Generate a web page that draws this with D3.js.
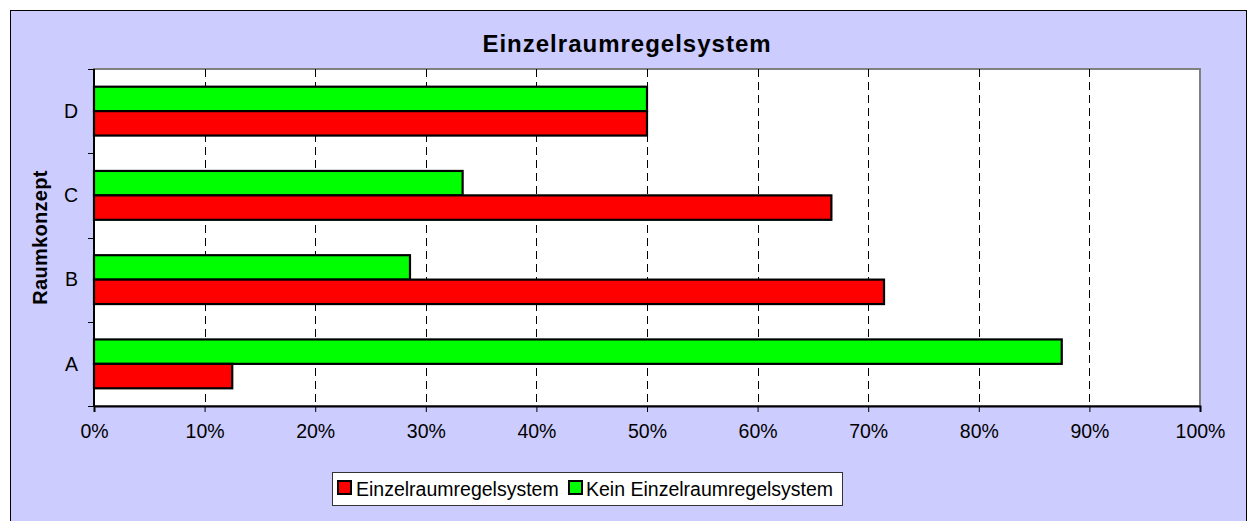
<!DOCTYPE html>
<html>
<head>
<meta charset="utf-8">
<script src="https://cdn.jsdelivr.net/npm/d3@7"></script>
<style>
  body { margin: 0; background: #fff; }
  svg text { font-family: "Liberation Sans", Arial, sans-serif; fill: #000; }
</style>
</head>
<body>
<script>
// data
const categories = ["D", "C", "B", "A"]
const seriesNames = ["Kein Einzelraumregelsystem", "Einzelraumregelsystem"]
const einzel = [0.5, 0.6667, 0.7143, 0.125]
const kein = [0.5, 0.3333, 0.2857, 0.875]
const xTicks = [0, 0.1, 0.2, 0.3, 0.4, 0.5, 0.6, 0.7, 0.8, 0.9, 1]
const colors = { "Einzelraumregelsystem": "#ff0000", "Kein Einzelraumregelsystem": "#00ff00" }

const width = 1252
const height = 521
const plot = { left: 94, right: 1200, top: 69, bottom: 406 }

const rows = categories.map((c, i) => ({
    cat: c,
    "Kein Einzelraumregelsystem": kein[i],
    "Einzelraumregelsystem": einzel[i]
}))

const svg = d3.select("body").append("svg")
    .attr("width", width)
    .attr("height", height)

// outer chart area
svg.append("rect")
    .attr("x", 10.5).attr("y", 10.5)
    .attr("width", 1236).attr("height", 520)
    .attr("fill", "#ccccff")
    .attr("stroke", "#000")

const x = d3.scaleLinear().domain([0, 1]).range([plot.left, plot.right])
const y = d3.scaleBand().domain(categories).range([plot.top, plot.bottom])
    .paddingInner(0.42).paddingOuter(0.21)
const yStep = y.step()
const ySub = d3.scaleBand().domain(seriesNames).range([0, y.bandwidth()])

// plot background
svg.append("rect")
    .attr("x", plot.left).attr("y", plot.top)
    .attr("width", plot.right - plot.left).attr("height", plot.bottom - plot.top)
    .attr("fill", "#fff")
    .attr("stroke", "#808080")
    .attr("stroke-width", 2)

// dashed gridlines
svg.append("g")
    .selectAll("line")
    .data(xTicks.slice(1, -1))
    .join("line")
    .attr("x1", d => Math.round(x(d)) + 0.5)
    .attr("x2", d => Math.round(x(d)) + 0.5)
    .attr("y1", plot.top)
    .attr("y2", plot.bottom)
    .attr("stroke", "#000")
    .attr("stroke-dasharray", "8,5")

// bars
const group = svg.append("g")
    .selectAll("g")
    .data(rows)
    .join("g")
    .attr("transform", d => `translate(0,${y(d.cat)})`)

group.selectAll("rect")
    .data(d => seriesNames.map(k => ({ key: k, value: d[k] })))
    .join("rect")
    .attr("x", x(0))
    .attr("y", d => ySub(d.key))
    .attr("width", d => x(d.value) - x(0))
    .attr("height", ySub.bandwidth())
    .attr("fill", d => colors[d.key])
    .attr("stroke", "#000")
    .attr("stroke-width", 2.2)

// x axis
const xAxis = d3.axisBottom(x)
    .tickValues(xTicks)
    .tickFormat(d3.format(".0%"))
    .tickSize(6)
    .tickPadding(12)

svg.append("g")
    .attr("transform", `translate(0,${plot.bottom})`)
    .call(xAxis)
    .call(g => g.select(".domain").attr("stroke", "#000").attr("stroke-width", 2))
    .call(g => g.selectAll(".tick line").attr("stroke", "#000"))
    .call(g => g.selectAll(".tick text")
        .style("font-size", "19.5px")
        .attr("fill", "#000"))

// y axis: ticks sit on band boundaries
const yBounds = d3.range(categories.length + 1).map(i => plot.top + i * yStep)
const ya = svg.append("g")
ya.append("line")
    .attr("x1", plot.left).attr("x2", plot.left)
    .attr("y1", plot.top).attr("y2", plot.bottom)
    .attr("stroke", "#000").attr("stroke-width", 2)
ya.selectAll("line.tk")
    .data(yBounds)
    .join("line")
    .attr("class", "tk")
    .attr("x1", plot.left - 6).attr("x2", plot.left)
    .attr("y1", d => Math.round(d) + 0.5).attr("y2", d => Math.round(d) + 0.5)
    .attr("stroke", "#000")
ya.selectAll("text")
    .data(categories)
    .join("text")
    .attr("x", 78)
    .attr("y", d => y(d) + y.bandwidth() / 2)
    .attr("dy", "0.35em")
    .attr("text-anchor", "end")
    .style("font-size", "19.5px")
    .text(d => d)

// title
svg.append("text")
    .attr("x", 627)
    .attr("y", 52)
    .attr("text-anchor", "middle")
    .style("font-size", "24px")
    .style("font-weight", "bold")
    .style("letter-spacing", "1px")
    .text("Einzelraumregelsystem")

// y axis title
svg.append("text")
    .attr("transform", `translate(47,${(plot.top + plot.bottom) / 2}) rotate(-90)`)
    .attr("text-anchor", "middle")
    .style("font-size", "20px")
    .style("font-weight", "bold")
    .style("letter-spacing", "0.3px")
    .text("Raumkonzept")

// legend
const legend = svg.append("g")
legend.append("rect")
    .attr("x", 332.5).attr("y", 472.5)
    .attr("width", 510).attr("height", 33)
    .attr("fill", "#fff")
    .attr("stroke", "#333")

const legendItems = [
    { key: "Einzelraumregelsystem", sx: 338, tx: 356 },
    { key: "Kein Einzelraumregelsystem", sx: 569, tx: 586 }
]
const li = legend.selectAll("g")
    .data(legendItems)
    .join("g")
li.append("rect")
    .attr("x", d => d.sx).attr("y", 481)
    .attr("width", 13).attr("height", 13)
    .attr("fill", d => colors[d.key])
    .attr("stroke", "#000")
    .attr("stroke-width", 2)
li.append("text")
    .attr("x", d => d.tx)
    .attr("y", 496)
    .style("font-size", "19.5px")
    .text(d => d.key)
</script>
</body>
</html>
